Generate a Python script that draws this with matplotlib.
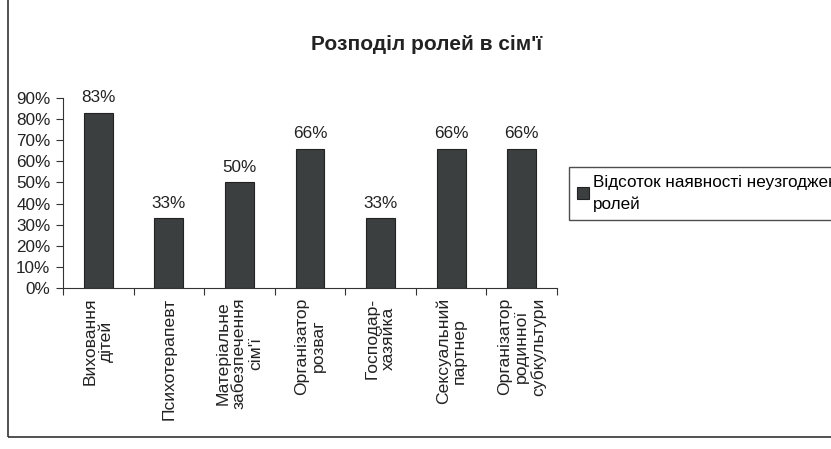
import matplotlib
matplotlib.use("Agg")
import matplotlib.pyplot as plt
from matplotlib.patches import Rectangle
import numpy as np

plt.rcParams['font.family'] = ['Liberation Sans', 'DejaVu Sans']

categories = ["Виховання\nдітей", "Психотерапевт", "Матеріальне\nзабезпечення\nсім'ї",
              "Організатор\nрозваг", "Господар-\nхазяйка", "Сексуальний\nпартнер",
              "Організатор\nродинної\nсубкультури"]
values = [0.83, 0.33, 0.50, 0.66, 0.33, 0.66, 0.66]
value_labels = ["83%", "33%", "50%", "66%", "33%", "66%", "66%"]
yticks = [0, 0.1, 0.2, 0.3, 0.4, 0.5, 0.6, 0.7, 0.8, 0.9]
ytick_labels = ["0%", "10%", "20%", "30%", "40%", "50%", "60%", "70%", "80%", "90%"]
series_name = "Відсоток наявності неузгоджених\nролей"
title = "Розподіл ролей в сім'ї"

W, H = 831, 449
fig = plt.figure(figsize=(W / 100, H / 100), dpi=100)
fig.patch.set_facecolor('white')

# outer chart frame
fig.add_artist(Rectangle((8 / W, 1 - 437 / H), 1.2, 437 / H + 0.1,
                         transform=fig.transFigure, fill=False,
                         edgecolor='#333333', linewidth=1.2))

ax = fig.add_axes([63 / W, 1 - 288 / H, (557 - 63) / W, (288 - 98) / H])
x = np.arange(len(categories))
bars = ax.bar(x, values, width=0.41, color='#3c3f3f', edgecolor='#222222',
              linewidth=0.8, label=series_name)
for xi, v, lab in zip(x, values, value_labels):
    ax.text(xi, v + 0.035, lab, ha='center', va='bottom', fontsize=12.3, color='#222222')

ax.set_xlim(-0.5, len(categories) - 0.5)
ax.set_ylim(0, 0.9)
ax.set_yticks(yticks)
ax.set_yticklabels(ytick_labels, fontsize=12.3, color='#222222')
ax.set_xticks(np.arange(len(categories) + 1) - 0.5)
ax.set_xticklabels([])
ax.tick_params(axis='x', direction='out', length=5, color='#333333')
ax.tick_params(axis='y', direction='out', length=5, color='#333333', pad=4)
for s in ['top', 'right']:
    ax.spines[s].set_visible(False)
for s in ['left', 'bottom']:
    ax.spines[s].set_color('#333333')

for xi, c in zip(x, categories):
    ax.text(xi, -0.045, c, rotation=90, ha='center', va='top', multialignment='center',
            fontsize=12.6, linespacing=1.12, color='#222222', clip_on=False)

fig.text(427 / W, 1 - 44 / H, title, ha='center', va='center', fontsize=15,
         fontweight='bold', color='#222222')

leg = fig.legend(handles=[bars], labels=[series_name], loc='upper left',
                 bbox_to_anchor=(569 / W, 1 - 167 / H), fontsize=12.3,
                 frameon=True, fancybox=False, edgecolor='#222222',
                 handlelength=0.7, handleheight=0.7, handletextpad=0.25,
                 borderpad=0.45, borderaxespad=0.0, labelspacing=0.2)
leg.get_frame().set_linewidth(1.0)
for t in leg.get_texts():
    t.set_linespacing(1.55)

fig.savefig("out.png", dpi=100)
